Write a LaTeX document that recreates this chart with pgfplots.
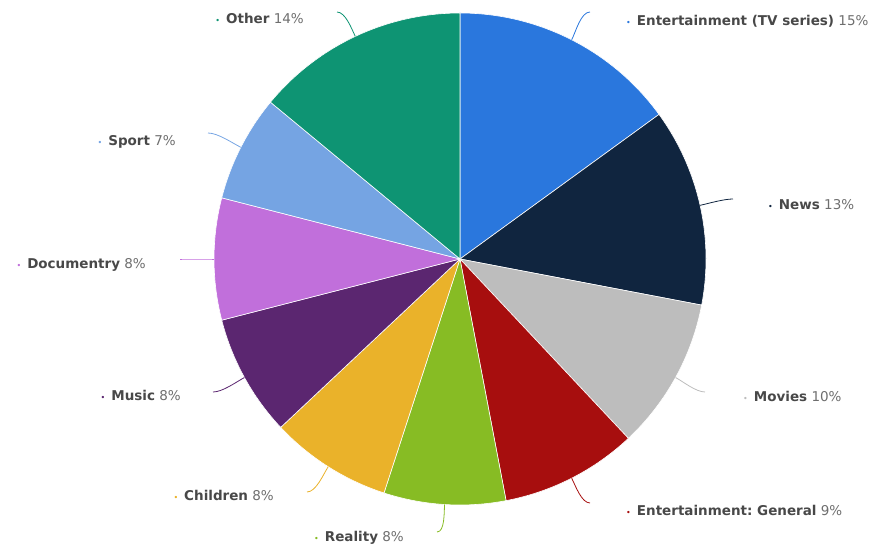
\documentclass[border=0pt]{standalone}
\usepackage{pgfplots}
\usepackage{pgfplotstable}
\pgfplotsset{compat=1.18}
\usepackage{fontspec}
\setmainfont{DejaVu Sans}
\frenchspacing
\definecolor{c1}{RGB}{42,119,221}
\definecolor{c2}{RGB}{16,37,63}
\definecolor{c3}{RGB}{189,189,189}
\definecolor{c4}{RGB}{167,14,14}
\definecolor{c5}{RGB}{135,188,36}
\definecolor{c6}{RGB}{234,178,42}
\definecolor{c7}{RGB}{91,38,112}
\definecolor{c8}{RGB}{193,111,219}
\definecolor{c9}{RGB}{117,164,227}
\definecolor{c10}{RGB}{14,148,115}
\definecolor{nametxt}{RGB}{72,72,72}
\definecolor{pcttxt}{RGB}{110,110,110}
\newcommand\dotc[1]{{\color{#1}\fontsize{8}{8}\selectfont\textbullet}\hspace{6pt}}
\newcommand\lab[3]{\dotc{#1}{\bfseries\color{nametxt}#2}\ {\color{pcttxt}#3}}

% value, colour, connector end (x,y in px-like units), arrival angle
\pgfplotstableread{
value color ex ey inang
15 c1  590 539 180
13 c2  733 352 180
10 c3  705 159 180
9  c4  590 48  180
8  c5  437 19  0
8  c6  307 59  0
8  c7  213 159 0
8  c8  180 292 0
7  c9  208 418 0
14 c10 337 539 0
}\data

\begin{document}
\begin{tikzpicture}
\begin{axis}[
  x=1pt, y=1pt,
  xmin=0, xmax=877, ymin=0, ymax=551,
  hide axis, clip=false,
]
\path (axis cs:0,0) rectangle (axis cs:877,551);
\pgfmathsetmacro\cum{0}
\pgfplotsforeachungrouped \i in {0,...,9}{%
  \pgfplotstablegetelem{\i}{value}\of\data \let\v\pgfplotsretval
  \pgfplotstablegetelem{\i}{color}\of\data \let\c\pgfplotsretval
  \pgfplotstablegetelem{\i}{ex}\of\data \let\ex\pgfplotsretval
  \pgfplotstablegetelem{\i}{ey}\of\data \let\ey\pgfplotsretval
  \pgfplotstablegetelem{\i}{inang}\of\data \let\ia\pgfplotsretval
  \pgfmathsetmacro\a{90-3.6*\cum}%
  \pgfmathsetmacro\b{90-3.6*(\cum+\v)}%
  \pgfmathsetmacro\m{90-3.6*(\cum+\v/2)}%
  \edef\temp{%
    \noexpand\fill[\c, draw=white, line width=0.6pt, line join=round]
      (axis cs:460,292) -- ++(\a:246pt) arc[start angle=\a, end angle=\b, radius=246pt] -- cycle;
    \noexpand\draw[\c, line width=0.8pt]
      (axis cs:460,292) ++(\m:246pt) to[out=\m, in=\ia, looseness=0.7] (axis cs:\ex,\ey);
  }\temp
  \pgfmathsetmacro\cum{\cum+\v}%
}
\begin{scope}[every node/.style={inner sep=0pt, font=\fontsize{13.5}{16}\selectfont}]
\node[anchor=west] at (axis cs:626,530) {\lab{c1}{Entertainment (TV series)}{15\%}};
\node[anchor=west] at (axis cs:768,346) {\lab{c2}{News}{13\%}};
\node[anchor=west] at (axis cs:743,155) {\lab{c3}{Movies}{10\%}};
\node[anchor=west] at (axis cs:626,41) {\lab{c4}{Entertainment: General}{9\%}};
\node[anchor=east] at (axis cs:404,13) {\lab{c5}{Reality}{8\%}};
\node[anchor=east] at (axis cs:274,56) {\lab{c6}{Children}{8\%}};
\node[anchor=east] at (axis cs:181,156) {\lab{c7}{Music}{8\%}};
\node[anchor=east] at (axis cs:146,286) {\lab{c8}{Documentry}{8\%}};
\node[anchor=east] at (axis cs:176,409) {\lab{c9}{Sport}{7\%}};
\node[anchor=east] at (axis cs:304,533) {\lab{c10}{Other}{14\%}};
\end{scope}
\end{axis}
\end{tikzpicture}
\end{document}
